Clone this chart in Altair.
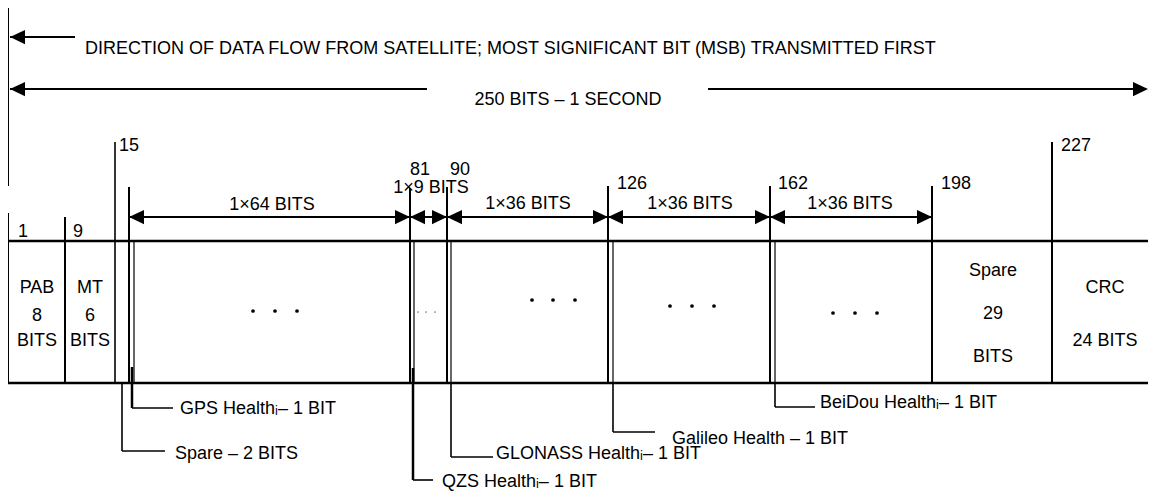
import altair as alt
import pandas as pd

FONT = "Liberation Sans"
FS = 18

# ---------------- texts (content) ----------------
header_text = ["DIRECTION OF DATA FLOW FROM SATELLITE; MOST SIGNIFICANT BIT (MSB) TRANSMITTED FIRST",
               "250 BITS – 1 SECOND"]
bit_numbers = ["1", "9", "15", "81", "90", "126", "162", "198", "227"]
span_labels = ["1×64 BITS", "1×9 BITS", "1×36 BITS", "1×36 BITS", "1×36 BITS"]
field_lines = ["PAB", "8", "BITS", "MT", "6", "BITS", "Spare", "29", "BITS", "CRC", "24 BITS"]
callouts = ["GPS Healthᵢ– 1 BIT", "Spare – 2 BITS", "QZS Healthᵢ– 1 BIT",
            "GLONASS Healthᵢ– 1 BIT", "Galileo Health – 1 BIT", "BeiDou Healthᵢ– 1 BIT"]

# ---------------- layout of the drawing ----------------
header_x = [85, 568]
header_y = [49, 100]

bit_x = [18, 73, 119, 410, 450, 617, 778, 941, 1061]
bit_y = [232, 232, 146, 170, 170, 184, 184, 184, 146]

span_x = [272, 431, 528, 690, 850]
span_y = [205, 188, 204, 204, 204]

field_x = [37, 37, 37, 90, 90, 90, 993, 993, 993, 1105, 1105]
field_y = [288, 316, 341, 288, 316, 341, 271, 314, 357, 288, 341]

callout_x = [180, 175, 442, 496, 672, 820]
callout_y = [409, 454, 482, 454, 439, 403]

RIGHT = 1148  # right edge of the drawable page

# line segments: x, y, x2, y2, width
seg_x1 = [8, 10, 10, 708, 8, 8,
          8, 65, 115, 129, 134, 410, 414, 447, 451, 608, 613, 770, 775, 932, 1052,
          129, 410, 447, 608, 770,
          132, 132, 122, 122, 413, 413, 451, 451, 613, 613, 775, 775]
seg_y1 = [8, 37, 89, 89, 241, 383,
          213, 217, 142, 187, 241, 188, 241, 187, 241, 186, 241, 186, 241, 186, 142,
          217, 217, 217, 217, 217,
          367, 408, 383, 451, 368, 480, 383, 457, 383, 432, 383, 407]
seg_x2 = [8, 75, 427, RIGHT - 8, RIGHT, RIGHT,
          8, 65, 115, 129, 134, 410, 414, 447, 451, 608, 613, 770, 775, 932, 1052,
          410, 447, 608, 770, 932,
          132, 173, 122, 165, 413, 433, 451, 493, 613, 655, 775, 815]
seg_y2 = [186, 37, 89, 89, 241, 383,
          383, 383, 383, 383, 383, 383, 383, 383, 383, 383, 383, 383, 383, 383, 383,
          217, 217, 217, 217, 217,
          408, 408, 451, 451, 480, 480, 457, 457, 432, 432, 407, 407]
seg_w = [2, 2, 2, 2, 2.5, 2.5,
         2, 2, 1.6, 2, 1.2, 2, 1.2, 2, 1.2, 2, 1.2, 2, 1.2, 2, 2,
         2, 2, 2, 2, 2,
         2.5, 1.6, 1.6, 1.6, 2.5, 1.6, 1.6, 1.6, 1.6, 1.6, 1.6, 1.6]

# arrow heads (tip position)
head_left_x = [10, 10, 129, 410, 447, 608, 770]
head_left_y = [37, 89, 217, 217, 217, 217, 217]
head_right_x = [RIGHT, 410, 447, 608, 770, 932]
head_right_y = [89, 217, 217, 217, 217, 217]

# ellipsis dots
dot_x = [253, 275, 297, 532, 553, 575, 670, 692, 714, 833, 855, 877]
dot_y = [311, 311, 311, 300, 300, 300, 306, 306, 306, 313, 313, 313]
small_dot_x = [418, 426, 435]
small_dot_y = [312, 312, 312]

# ---------------- chart ----------------
XS = alt.Scale(domain=[8, 1148], nice=False, zero=False)
YS = alt.Scale(domain=[492, 8], nice=False, zero=False)
X = alt.X("x:Q", scale=XS, axis=None)
Y = alt.Y("y:Q", scale=YS, axis=None)

segs = pd.DataFrame({"x": seg_x1, "y": seg_y1, "x2": seg_x2, "y2": seg_y2, "w": seg_w})
lines = alt.Chart(segs).mark_rule(color="black", strokeCap="butt").encode(
    x=X, y=Y, x2="x2:Q", y2="y2:Q",
    strokeWidth=alt.StrokeWidth("w:Q", scale=None, legend=None))

left_heads = alt.Chart(pd.DataFrame({"x": head_left_x, "y": head_left_y})).mark_point(
    shape="M0,0L2,-0.95L2,0.95Z", size=225, filled=True, color="black",
    opacity=1, strokeWidth=0).encode(x=X, y=Y)
right_heads = alt.Chart(pd.DataFrame({"x": head_right_x, "y": head_right_y})).mark_point(
    shape="M0,0L-2,-0.95L-2,0.95Z", size=225, filled=True, color="black",
    opacity=1, strokeWidth=0).encode(x=X, y=Y)

dots = alt.Chart(pd.DataFrame({"x": dot_x, "y": dot_y})).mark_circle(
    size=14, color="black", opacity=1).encode(x=X, y=Y)
small_dots = alt.Chart(pd.DataFrame({"x": small_dot_x, "y": small_dot_y})).mark_circle(
    size=3, color="#777777", opacity=1).encode(x=X, y=Y)

def text_layer(texts, xs, ys, align):
    df = pd.DataFrame({"x": xs, "y": ys, "t": texts})
    return alt.Chart(df).mark_text(align=align, baseline="middle", font=FONT,
                                   fontSize=FS, color="black").encode(x=X, y=Y, text="t:N")

t_header_l = text_layer(header_text[:1], header_x[:1], header_y[:1], "left")
t_header_c = text_layer(header_text[1:], header_x[1:], header_y[1:], "center")
t_bits = text_layer(bit_numbers, bit_x, bit_y, "left")
t_spans = text_layer(span_labels, span_x, span_y, "center")
t_fields = text_layer(field_lines, field_x, field_y, "center")
t_callouts = text_layer(callouts, callout_x, callout_y, "left")

chart = alt.layer(
    lines, left_heads, right_heads, dots, small_dots,
    t_header_l, t_header_c, t_bits, t_spans, t_fields, t_callouts
).properties(
    width=1140, height=484, padding=0, autosize="none", background="white"
).configure_view(stroke=None)

chart.save("out.html", embed_options={"renderer": "svg", "actions": False})
